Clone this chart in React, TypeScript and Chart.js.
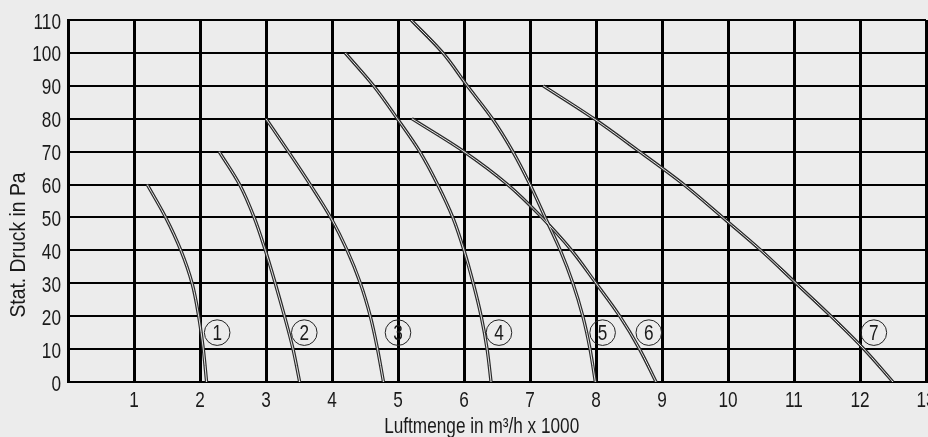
import React, { useEffect, useRef } from 'react';
import { Chart, registerables } from 'chart.js';

Chart.register(...registerables);

const FONT = "'Liberation Sans', Arial, sans-serif";
const FONT_SIZE = 21.5;
const SQUEEZE = 0.8;

// Axis ranges / ticks
const xMin = 0;
const xMax = 13;
const xStep = 1;
const yMin = 0;
const yMax = 110;
const yStep = 10;

// Fan curves (x = Luftmenge in m³/h x 1000, y = Stat. Druck in Pa)
const curve1X = [1.2, 1.48, 1.71, 1.88, 1.98, 2.05, 2.1];
const curve1Y = [60, 50, 40, 30, 20, 10, 0];
const curve2X = [2.29, 2.6, 2.82, 2.99, 3.14, 3.28, 3.41, 3.51];
const curve2Y = [70, 60, 50, 40, 30, 20, 10, 0];
const curve3X = [3.0, 3.34, 3.67, 3.98, 4.23, 4.43, 4.58, 4.69, 4.78];
const curve3Y = [80, 70, 60, 50, 40, 30, 20, 10, 0];
const curve4X = [4.2, 4.63, 4.99, 5.33, 5.6, 5.83, 6.0, 6.14, 6.26, 6.35, 6.41];
const curve4Y = [100, 90, 80, 70, 60, 50, 40, 30, 20, 10, 0];
const curve5X = [5.2, 5.68, 6.05, 6.43, 6.74, 7.0, 7.23, 7.46, 7.65, 7.8, 7.91, 7.99];
const curve5Y = [110, 100, 90, 80, 70, 60, 50, 40, 30, 20, 10, 0];
const curve6X = [5.21, 6.0, 6.66, 7.18, 7.63, 8.0, 8.36, 8.66, 8.91];
const curve6Y = [80, 70, 60, 50, 40, 30, 20, 10, 0];
const curve7X = [7.2, 7.97, 8.66, 9.33, 9.92, 10.5, 11.03, 11.56, 12.06, 12.5];
const curve7Y = [90, 80, 70, 60, 50, 40, 30, 20, 10, 0];

const curvesX = [curve1X, curve2X, curve3X, curve4X, curve5X, curve6X, curve7X];
const curvesY = [curve1Y, curve2Y, curve3Y, curve4Y, curve5Y, curve6Y, curve7Y];

// Circled curve labels
const labelText = ['1', '2', '3', '4', '5', '6', '7'];
const labelX = [2.26, 3.58, 5.0, 6.53, 8.1, 8.8, 12.21];
const labelY = [15, 15, 15, 15, 15, 15, 15];

const xTitle = 'Luftmenge in m³/h x 1000';
const yTitle = 'Stat. Druck in Pa';

const BG = '#ececec';
const INK = '#1a1a1a';

function squeezedText(
  ctx: CanvasRenderingContext2D,
  text: string,
  x: number,
  y: number,
  align: CanvasTextAlign,
  rotate = 0,
  squeeze = SQUEEZE
) {
  ctx.save();
  ctx.translate(x, y);
  if (rotate) ctx.rotate(rotate);
  ctx.scale(squeeze, 1);
  ctx.font = `${FONT_SIZE}px ${FONT}`;
  ctx.fillStyle = INK;
  ctx.textAlign = align;
  ctx.textBaseline = 'alphabetic';
  ctx.fillText(text, 0, 0);
  ctx.restore();
}

const overlayPlugin = {
  id: 'overlay',
  afterDraw(chart: any) {
    const { ctx, chartArea, scales } = chart;
    const xs = scales.x;
    const ys = scales.y;
    ctx.save();
    // tick labels from the library's scales
    xs.ticks.forEach((t: any) => {
      if (t.value === 0) return;
      squeezedText(ctx, String(t.value), xs.getPixelForValue(t.value), chartArea.bottom + 25, 'center');
    });
    ys.ticks.forEach((t: any) => {
      squeezedText(ctx, String(t.value), chartArea.left - 7, ys.getPixelForValue(t.value) + 8.5, 'right');
    });
    // circled labels
    for (let i = 0; i < labelText.length; i++) {
      const cx = xs.getPixelForValue(labelX[i]);
      const cy = ys.getPixelForValue(labelY[i]);
      ctx.beginPath();
      ctx.arc(cx, cy, 12.8, 0, Math.PI * 2);
      ctx.lineWidth = 1;
      ctx.strokeStyle = '#222';
      ctx.stroke();
      squeezedText(ctx, labelText[i], cx, cy + 7.8, 'center');
    }
    // axis titles
    squeezedText(ctx, xTitle, 481.7, chartArea.bottom + 51, 'center');
    squeezedText(ctx, yTitle, 25, 245, 'center', -Math.PI / 2, 0.9);
    ctx.restore();
  },
};

export default function App() {
  const ref = useRef<HTMLCanvasElement | null>(null);

  useEffect(() => {
    document.body.style.margin = '0';
    document.body.style.background = BG;
    document.body.style.overflow = 'hidden';
    const canvas = ref.current;
    if (!canvas) return;

    const datasets: any[] = [];
    curvesX.forEach((xsArr, i) => {
      // ordered by rising pressure so the curve is interpolated along the y axis
      const data = xsArr.map((x, j) => ({ x, y: curvesY[i][j] })).reverse();
      datasets.push({
        data,
        borderColor: '#2a2a2a',
        borderWidth: 3.3,
        pointRadius: 0,
        cubicInterpolationMode: 'monotone',
        fill: false,
        order: 2,
      });
      datasets.push({
        data,
        borderColor: '#e4e4e4',
        borderWidth: 1,
        pointRadius: 0,
        cubicInterpolationMode: 'monotone',
        fill: false,
        order: 1,
      });
    });

    const chart = new Chart(canvas, {
      type: 'line',
      data: { datasets },
      plugins: [overlayPlugin],
      options: {
        animation: false,
        responsive: false,
        devicePixelRatio: 1,
        indexAxis: 'y',
        layout: { padding: { left: 0, top: 20, right: 2, bottom: 0 } },
        plugins: { legend: { display: false }, tooltip: { enabled: false } },
        scales: {
          x: {
            type: 'linear',
            min: xMin,
            max: xMax,
            ticks: { stepSize: xStep, display: false },
            grid: { color: '#000', lineWidth: 3, drawTicks: false },
            border: { color: '#000', width: 2 },
            afterFit: (s: any) => {
              s.height = 55;
            },
          },
          y: {
            type: 'linear',
            min: yMin,
            max: yMax,
            ticks: { stepSize: yStep, display: false },
            grid: { color: '#000', lineWidth: 2, drawTicks: false },
            border: { color: '#000', width: 3 },
            afterFit: (s: any) => {
              s.width = 68;
            },
          },
        },
      },
    });
    return () => chart.destroy();
  }, []);

  return (
    <div style={{ width: 928, height: 437, overflow: 'hidden', background: BG }}>
      <canvas ref={ref} width={928} height={437} style={{ display: 'block', width: 928, height: 437 }} />
    </div>
  );
}
